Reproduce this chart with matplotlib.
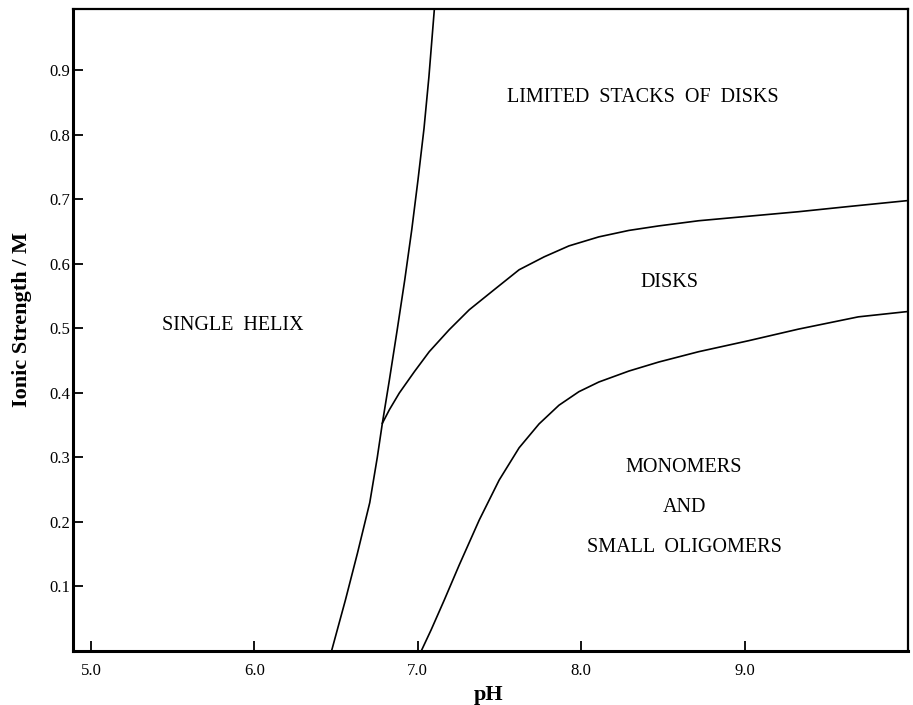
import matplotlib
matplotlib.use("Agg")
import matplotlib.pyplot as plt

# Boundary curves (pH, ionic strength / M)
helix_ph = [6.472, 6.557, 6.631, 6.706, 6.752, 6.783, 6.826, 6.874, 6.920,
            6.963, 7.001, 7.038, 7.068, 7.101]
helix_I  = [0.000, 0.079, 0.152, 0.230, 0.300, 0.353, 0.420, 0.498, 0.575,
            0.653, 0.730, 0.810, 0.890, 0.994]

disk_ph = [6.783, 6.826, 6.887, 6.979, 7.070, 7.192, 7.315, 7.467, 7.620, 7.773,
           7.925, 8.108, 8.292, 8.475, 8.719, 9.024, 9.330, 9.635, 9.989]
disk_I  = [0.353, 0.374, 0.400, 0.433, 0.464, 0.498, 0.529, 0.560, 0.591, 0.611,
           0.628, 0.642, 0.652, 0.659, 0.667, 0.674, 0.681, 0.689, 0.698]

mono_ph = [7.021, 7.082, 7.162, 7.253, 7.376, 7.498, 7.620, 7.742, 7.864, 7.986,
           8.108, 8.292, 8.475, 8.719, 9.024, 9.330, 9.696, 9.989]
mono_I  = [0.000, 0.033, 0.079, 0.133, 0.203, 0.265, 0.315, 0.352, 0.381, 0.402,
           0.417, 0.434, 0.448, 0.464, 0.481, 0.499, 0.518, 0.526]

x_ticks = [5.0, 6.0, 7.0, 8.0, 9.0]
x_tick_labels = ["5.0", "6.0", "7.0", "8.0", "9.0"]
y_ticks = [0.1, 0.2, 0.3, 0.4, 0.5, 0.6, 0.7, 0.8, 0.9]
y_tick_labels = ["0.1", "0.2", "0.3", "0.4", "0.5", "0.6", "0.7", "0.8", "0.9"]

region_labels = ["LIMITED  STACKS  OF  DISKS", "DISKS", "SINGLE  HELIX",
                 "MONOMERS", "AND", "SMALL  OLIGOMERS"]
region_x = [8.38, 8.54, 5.87, 8.63, 8.63, 8.63]
region_y = [0.858, 0.572, 0.504, 0.284, 0.222, 0.160]

plt.rcParams['font.family'] = ['Liberation Serif', 'DejaVu Serif']

fig = plt.figure(figsize=(9.13, 7.05), dpi=100)
ax = fig.add_axes([0.080, 0.0766, 0.9145, 0.9104])

for xs, ys in [(helix_ph, helix_I), (disk_ph, disk_I), (mono_ph, mono_I)]:
    ax.plot(xs, ys, color='black', lw=1.2)

for t, x, y in zip(region_labels, region_x, region_y):
    ax.text(x, y, t, ha='center', va='center', fontsize=14.5, color='black')

ax.set_xlim(4.89, 10.0)
ax.set_ylim(0.0, 0.995)
ax.set_xticks(x_ticks)
ax.set_xticklabels(x_tick_labels)
ax.set_yticks(y_ticks)
ax.set_yticklabels(y_tick_labels)
ax.tick_params(direction='in', length=7, width=1.3, labelsize=12, top=False, right=False)
ax.tick_params(axis='x', pad=9)
ax.tick_params(axis='y', pad=2)

for s in ['left', 'bottom']:
    ax.spines[s].set_linewidth(2.2)
for s in ['top', 'right']:
    ax.spines[s].set_linewidth(1.6)

ax.set_xlabel('pH', fontsize=16, fontweight='bold')
ax.xaxis.set_label_coords(0.498, -0.053)
ax.set_ylabel('Ionic Strength / M', fontsize=16, fontweight='bold')
ax.yaxis.set_label_coords(-0.049, 0.517)

fig.savefig('out.png', dpi=100)
